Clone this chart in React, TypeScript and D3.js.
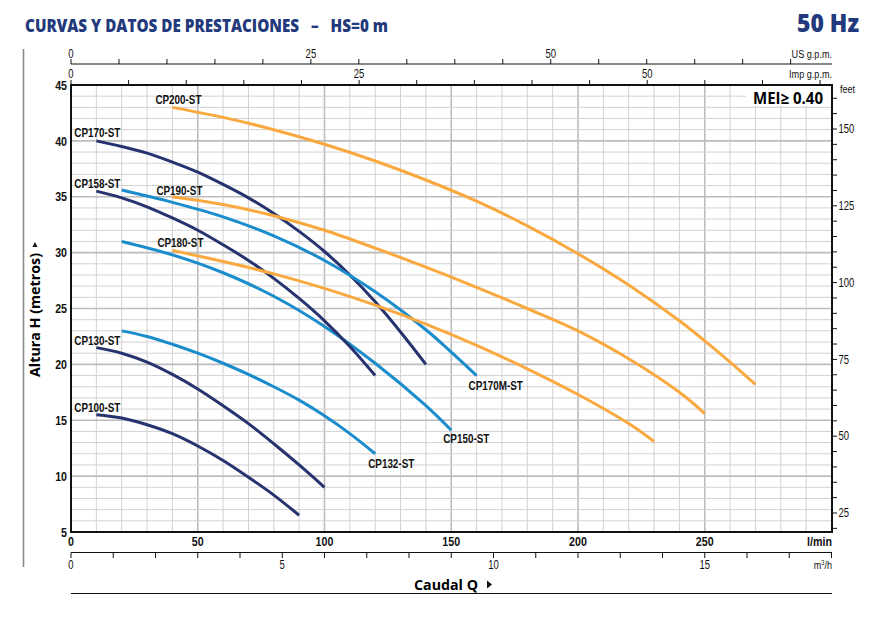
import * as d3 from "d3";

// flow in l/min, head in metres
const cp100Q = [10, 20, 30, 40, 50, 60, 70, 80, 90];
const cp100H = [15.5, 15.2, 14.6, 13.8, 12.7, 11.4, 9.9, 8.3, 6.5];
const cp130Q = [10, 20, 30, 40, 50, 60, 70, 80, 90, 100];
const cp130H = [21.5, 21.0, 20.2, 19.1, 17.8, 16.3, 14.7, 12.9, 11.0, 9.0];
const cp132Q = [20, 30, 40, 50, 60, 70, 80, 90, 100, 110, 120];
const cp132H = [23.0, 22.5, 21.8, 21.0, 20.1, 19.1, 18.0, 16.8, 15.4, 13.8, 12.0];
const cp150Q = [20, 40, 60, 80, 100, 120, 140, 150];
const cp150H = [31.0, 29.8, 28.2, 26.1, 23.4, 20.1, 16.3, 14.1];
const cp158Q = [10, 20, 30, 40, 50, 60, 70, 80, 90, 100, 110, 120];
const cp158H = [35.5, 34.9, 34.1, 33.1, 32.0, 30.7, 29.3, 27.7, 25.9, 23.9, 21.6, 19.0];
const cp170Q = [10, 20, 30, 40, 50, 60, 70, 80, 90, 100, 110, 120, 130, 140];
const cp170H = [40.0, 39.5, 38.9, 38.1, 37.2, 36.1, 34.9, 33.5, 31.9, 30.1, 28.0, 25.6, 22.9, 20.0];
const cp170mQ = [20, 40, 60, 80, 100, 120, 140, 150, 160];
const cp170mH = [35.6, 34.5, 33.2, 31.5, 29.3, 26.5, 23.1, 21.1, 19.0];
const cp180Q = [40, 60, 80, 100, 120, 140, 160, 180, 200, 220, 230];
const cp180H = [30.2, 29.2, 28.1, 26.8, 25.3, 23.6, 21.7, 19.6, 17.3, 14.7, 13.1];
const cp190Q = [40, 60, 80, 100, 120, 140, 160, 180, 200, 220, 240, 250];
const cp190H = [35.0, 34.3, 33.3, 32.0, 30.4, 28.7, 26.9, 25.0, 23.0, 20.5, 17.5, 15.6];
const cp200Q = [40, 60, 80, 100, 120, 140, 160, 180, 200, 220, 240, 250, 260, 270];
const cp200H = [43.0, 42.1, 41.0, 39.7, 38.2, 36.5, 34.6, 32.4, 29.9, 27.1, 23.9, 22.1, 20.2, 18.2];

const headTicks = [5, 10, 15, 20, 25, 30, 35, 40, 45];
const lminTicks = [0, 50, 100, 150, 200, 250];
const usGpmLabels = [0, 25, 50];
const impGpmLabels = [0, 25, 50];
const m3hLabels = [0, 5, 10, 15];
const feetLabels = [25, 50, 75, 100, 125, 150];

const NAVY = "#27336f";
const BLUE = "#1b8ccc";
const ORANGE = "#f9a93f";
const TITLE = "#22397b";

const series = [
  { name: "CP100-ST", q: cp100Q, h: cp100H, color: NAVY, at: "start", dx: -22, dy: -3 },
  { name: "CP130-ST", q: cp130Q, h: cp130H, color: NAVY, at: "start", dx: -22, dy: -3 },
  { name: "CP132-ST", q: cp132Q, h: cp132H, color: BLUE, at: "end", dx: -7, dy: 14 },
  { name: "CP150-ST", q: cp150Q, h: cp150H, color: BLUE, at: "end", dx: -8, dy: 13 },
  { name: "CP158-ST", q: cp158Q, h: cp158H, color: NAVY, at: "start", dx: -22, dy: -3 },
  { name: "CP170-ST", q: cp170Q, h: cp170H, color: NAVY, at: "start", dx: -22, dy: -4 },
  { name: "CP170M-ST", q: cp170mQ, h: cp170mH, color: BLUE, at: "end", dx: -8, dy: 14 },
  { name: "CP180-ST", q: cp180Q, h: cp180H, color: ORANGE, at: "start", dx: -15, dy: -3 },
  { name: "CP190-ST", q: cp190Q, h: cp190H, color: ORANGE, at: "start", dx: -16, dy: -2 },
  { name: "CP200-ST", q: cp200Q, h: cp200H, color: ORANGE, at: "start", dx: -17, dy: -3 },
];

const W = 890;
const H = 623;
const left = 71;
const right = 832;
const top = 85;
const bottom = 532;

const sans = "'Liberation Sans', Arial, sans-serif";
const heavy = "'Open Sans', 'Liberation Sans', sans-serif";

// condensed look: regular sans squeezed horizontally
function NText({ x, y, anchor = "start", size = 11.5, weight = 400, dy = "0", children }: any) {
  return (
    <text
      transform={`translate(${x},${y}) scale(0.79,1)`}
      textAnchor={anchor}
      dy={dy}
      fontFamily={sans}
      fontSize={size}
      fontWeight={weight}
      fill="#111"
    >
      {children}
    </text>
  );
}

export default function App() {
  const x = d3.scaleLinear().domain([0, 300]).range([left, 831.5]);
  const y = d3.scaleLinear().domain([5, 45]).range([bottom, top]);
  const xUs = d3.scaleLinear().domain([0, 300 / 3.785]).range([left, 831.5]);
  const xImp = d3.scaleLinear().domain([0, 300 / 4.546]).range([left, 831.5]);
  const xM3h = d3.scaleLinear().domain([0, 18]).range([left, 831.5]);
  const yFeet = d3.scaleLinear().domain([25, 150]).range([513, 129]);

  const line = d3
    .line<[number, number]>()
    .x((d) => x(d[0]))
    .y((d) => y(d[1]))
    .curve(d3.curveCatmullRom.alpha(0.5));

  const vGrid = d3.range(10, 300, 10);
  const hGrid = d3.range(6, 45, 1);
  const usTicks = d3.range(0, 80, 5);
  const impTicks = d3.range(0, 66, 5);
  const m3hTicks = d3.range(0, 19, 1);
  const feetTicks = d3.range(20, 165, 5);

  return (
    <svg
      width={W}
      height={H}
      style={{ position: "absolute", left: 0, top: 0, background: "#fff" }}
    >
      {/* title */}
      <text x={25} y={31.5} fill={TITLE} fontFamily={heavy} fontWeight={800} fontSize={17.5}
        textLength={363} lengthAdjust="spacingAndGlyphs" style={{ whiteSpace: "pre" }}>
        {"CURVAS Y DATOS DE PRESTACIONES   –   HS=0 m"}
      </text>
      <text x={797} y={31.5} fill={TITLE} fontFamily={heavy} fontWeight={800} fontSize={24.5}
        textLength={62} lengthAdjust="spacingAndGlyphs">
        50 Hz
      </text>

      {/* left marker line */}
      <line x1={23.5} x2={23.5} y1={49} y2={567} stroke="#8a8a8a" strokeWidth={1.6} />

      {/* grid */}
      {vGrid.map((v) => (
        <line key={"v" + v} x1={x(v)} x2={x(v)} y1={top} y2={bottom}
          stroke={v % 50 === 0 ? "#bcbcbc" : "#d2d2d2"} strokeWidth={v % 50 === 0 ? 1.6 : 1} />
      ))}
      {hGrid.map((v) => (
        <line key={"h" + v} x1={left} x2={right} y1={y(v)} y2={y(v)}
          stroke={v % 5 === 0 ? "#bcbcbc" : "#d2d2d2"} strokeWidth={v % 5 === 0 ? 1.6 : 1} />
      ))}

      {/* MEI box */}
      <rect x={746} y={86} width={85} height={20} fill="#fff" />
      <text x={753} y={103.5} fontFamily={heavy} fontWeight={700} fontSize={16}
        textLength={70} lengthAdjust="spacingAndGlyphs">
        MEI≥ 0.40
      </text>

      {/* curves */}
      {series.map((s) => (
        <path key={s.name} d={line(s.q.map((q, i) => [q, s.h[i]] as [number, number])) || ""}
          fill="none" stroke={s.color} strokeWidth={3} />
      ))}
      {series.map((s) => {
        const i = s.at === "start" ? 0 : s.q.length - 1;
        return (
          <NText key={"l" + s.name} x={x(s.q[i]) + s.dx} y={y(s.h[i]) + s.dy} size={12.5} weight={700}>
            {s.name}
          </NText>
        );
      })}

      {/* frame */}
      <rect x={left} y={top} width={right - left} height={bottom - top}
        fill="none" stroke="#111" strokeWidth={2} />

      {/* left axis (metres) */}
      {headTicks.map((t) => (
        <NText key={"y" + t} x={67} y={y(t)} dy="0.35em" anchor="end" size={13.5} weight={700}>
          {t}
        </NText>
      ))}
      <text transform={`translate(40,377) rotate(-90)`} fontFamily={heavy} fontWeight={700} fontSize={14}
        textLength={124} lengthAdjust="spacingAndGlyphs">
        Altura H (metros)
      </text>
      <path d="M 32.5,247 L 37.5,247 L 35,242 Z" fill="#111" />

      {/* right axis (feet) */}
      {feetTicks.map((t) => (
        <line key={"f" + t} x1={right} x2={right + 5} y1={yFeet(t)} y2={yFeet(t)} stroke="#111" strokeWidth={1} />
      ))}
      {feetLabels.map((t) => (
        <NText key={"fl" + t} x={838.5} y={yFeet(t)} dy="0.35em" size={12}>
          {t}
        </NText>
      ))}
      <NText x={840} y={93} size={11.5}>feet</NText>

      {/* top axis US gpm */}
      <line x1={left} x2={right} y1={64} y2={64} stroke="#111" strokeWidth={1.2} />
      {usTicks.map((t) => (
        <line key={"us" + t} x1={xUs(t)} x2={xUs(t)} y1={59} y2={64} stroke="#111" strokeWidth={1} />
      ))}
      {usGpmLabels.map((t) => (
        <NText key={"usl" + t} x={xUs(t)} y={57.5} anchor="middle" size={12}>
          {t}
        </NText>
      ))}
      <NText x={right} y={57.5} anchor="end" size={11.5}>US g.p.m.</NText>

      {/* top axis Imp gpm */}
      {impTicks.map((t) => (
        <line key={"imp" + t} x1={xImp(t)} x2={xImp(t)} y1={80} y2={85} stroke="#111" strokeWidth={1} />
      ))}
      {impGpmLabels.map((t) => (
        <NText key={"impl" + t} x={xImp(t)} y={77.5} anchor="middle" size={12}>
          {t}
        </NText>
      ))}
      <NText x={right} y={77.5} anchor="end" size={11.5}>Imp g.p.m.</NText>

      {/* bottom axis l/min */}
      {lminTicks.map((t) => (
        <NText key={"x" + t} x={x(t)} y={546} anchor="middle" size={13.5} weight={700}>
          {t}
        </NText>
      ))}
      <NText x={right} y={546} anchor="end" size={13.5} weight={700}>l/min</NText>

      {/* bottom axis m3/h */}
      <line x1={left} x2={right} y1={552.5} y2={552.5} stroke="#111" strokeWidth={1.2} />
      {m3hTicks.map((t) => (
        <line key={"m" + t} x1={xM3h(t)} x2={xM3h(t)} y1={552.5} y2={558} stroke="#111" strokeWidth={1} />
      ))}
      {m3hLabels.map((t) => (
        <NText key={"ml" + t} x={xM3h(t)} y={568.5} anchor="middle" size={12}>
          {t}
        </NText>
      ))}
      <NText x={right} y={568.5} anchor="end" size={11.5}>
        m<tspan dy={-4} fontSize={7}>3</tspan><tspan dy={4}>/h</tspan>
      </NText>

      <text x={414} y={589.5} fontFamily={heavy} fontWeight={700} fontSize={15}
        textLength={64} lengthAdjust="spacingAndGlyphs">
        Caudal Q
      </text>
      <path d="M 487,580.5 L 487,588.5 L 492,584.5 Z" fill="#111" />
      <line x1={left} x2={right} y1={593.5} y2={593.5} stroke="#111" strokeWidth={1.2} />
    </svg>
  );
}
